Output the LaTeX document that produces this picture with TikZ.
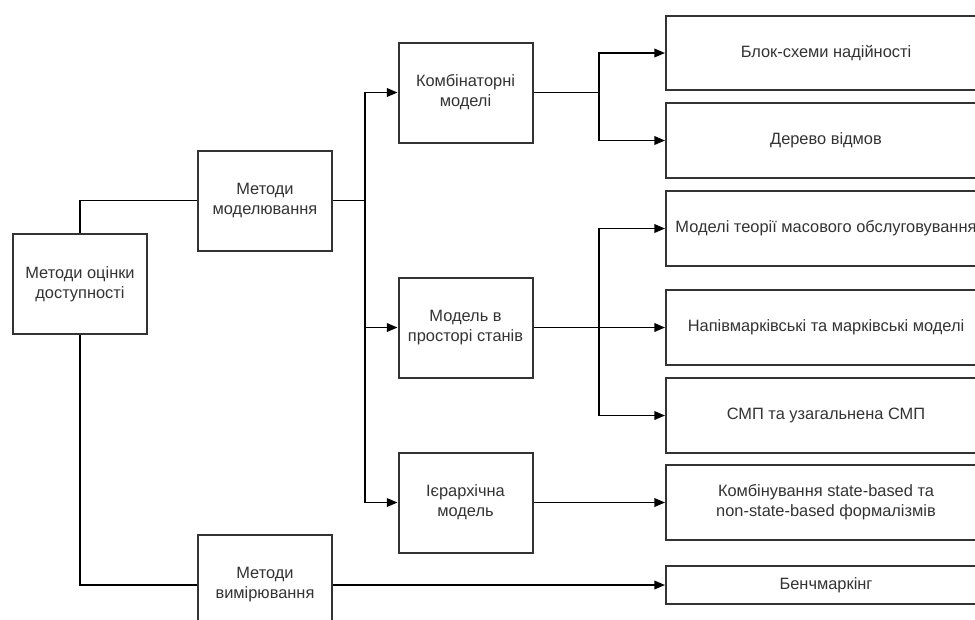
\documentclass[tikz,border=0pt]{standalone}
\usepackage{fontspec}
\setmainfont{Liberation Sans}
\usetikzlibrary{arrows.meta}
\definecolor{boxline}{HTML}{333333}
\definecolor{txt}{HTML}{333333}
\tikzset{
  blk/.style={draw=boxline, line width=1.5pt, fill=white, text=txt,
    minimum width=100.5pt, minimum height=75pt, align=center,
    inner sep=2pt, font=\fontsize{12.3pt}{15pt}\selectfont},
  leaf/.style={blk, minimum width=240pt, minimum height=56pt},
  leafs/.style={blk, minimum width=240pt, minimum height=28pt},
  wire/.style={draw=black, line width=1.1pt},
  arr/.style={wire, -{Triangle[length=8pt,width=6.5pt]}}
}
\begin{document}
\begin{tikzpicture}[x=0.75pt, y=-0.75pt]
\useasboundingbox (0,0) rectangle (975,619);
\clip (0,0) rectangle (975,619);

% first and second level
\node[blk] (root) at (80,284) {Методи оцінки\\доступності};
\node[blk] (mod)  at (265,200.5) {Методи\\моделювання};
\node[blk] (meas) at (265,585) {Методи\\вимірювання};

% model classes
\node[blk] (comb)  at (465.5,92.5)  {Комбінаторні\\моделі};
\node[blk] (state) at (465.5,327.5) {Модель в\\просторі станів};
\node[blk] (hier)  at (465.5,502.5) {Ієрархічна\\модель};

% concrete formalisms
\node[leaf]  (r1) at (826,53)    {Блок-схеми надійності};
\node[leaf]  (r2) at (826,140.5) {Дерево відмов};
\node[leaf]  (r3) at (826,228.5) {Моделі теорії масового обслуговування};
\node[leaf]  (r4) at (826,327.5) {Напівмарківські та марківські моделі};
\node[leaf]  (r5) at (826,415.5) {СМП та узагальнена СМП};
\node[leaf]  (r6) at (826,502.5) {Комбінування state-based та\\non-state-based формалізмів};
\node[leafs] (r7) at (826,585)   {Бенчмаркінг};

% junction points of the buses
\coordinate (j1) at (365,200.5);
\coordinate (j2) at (599,92.5);
\coordinate (j3) at (599,327.5);

% connectors
\draw[wire] (root.north) |- (mod.west);
\draw[wire] (root.south) |- (meas.west);
\draw[wire] (mod.east) -- (j1);
\draw[arr] (j1) |- (comb.west);
\draw[arr] (j1) |- (state.west);
\draw[arr] (j1) |- (hier.west);
\draw[wire] (comb.east) -- (j2);
\draw[arr] (j2) |- (r1.west);
\draw[arr] (j2) |- (r2.west);
\draw[arr] (state.east) -- (r4.west);
\draw[arr] (j3) |- (r3.west);
\draw[arr] (j3) |- (r5.west);
\draw[arr] (hier.east) -- (r6.west);
\draw[arr] (meas.east) -- (r7.west);
\end{tikzpicture}
\end{document}
